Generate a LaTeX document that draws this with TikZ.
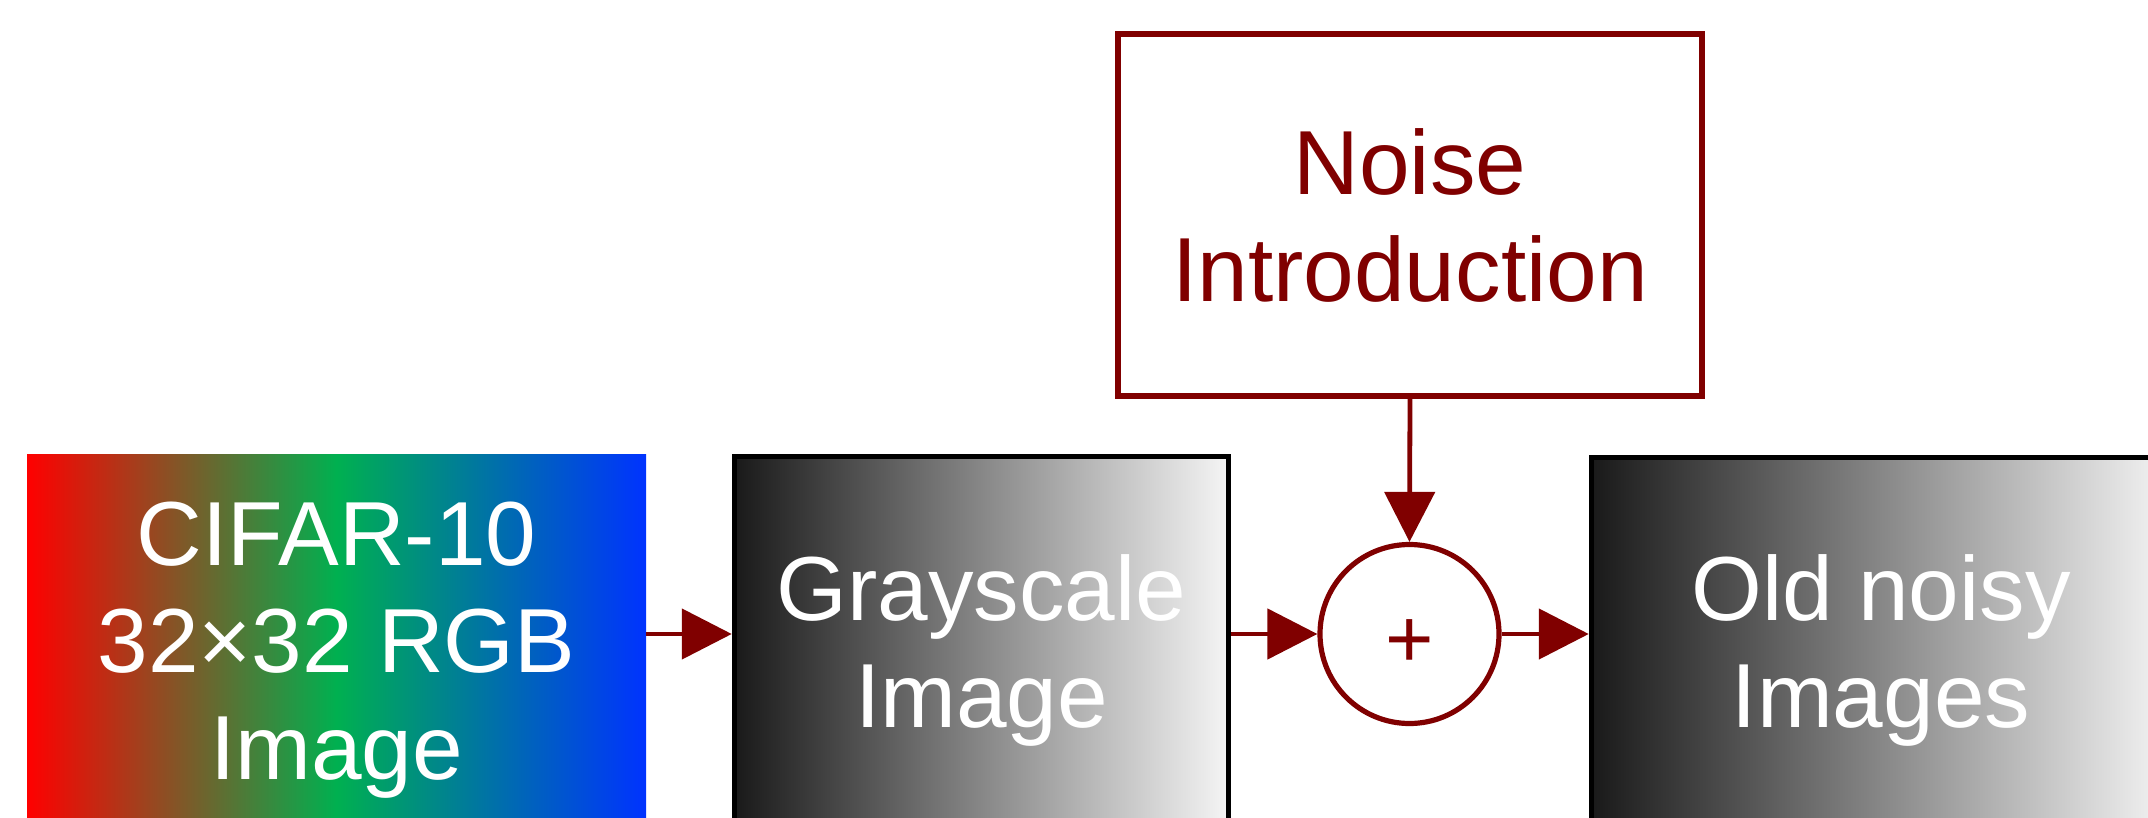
\documentclass[tikz,border=0pt]{standalone}
\usepackage{fontspec}
\setmainfont{Liberation Sans}
\usetikzlibrary{arrows.meta}
\definecolor{noisered}{RGB}{128,0,0}
\definecolor{rgbred}{RGB}{255,0,0}
\definecolor{rgbgreen}{RGB}{0,176,80}
\definecolor{rgbblue}{RGB}{0,51,255}

\begin{document}
\begin{tikzpicture}[%
  x=0.5pt, y=-0.5pt,
  every node/.style={font=\fontsize{45.5pt}{53.5pt}\selectfont, align=center, inner sep=0pt},
  graybox/.style={draw=black, line width=2.75pt, left color=black!90, right color=black!4, text=white},
  flow/.style={draw=noisered, line width=2.4pt, -{Triangle[length=25pt,width=25pt]}}]
  \useasboundingbox (0,0) rectangle (2148,818);
  \clip (0,0) rectangle (2148,818);
  \node[left color=rgbred, right color=rgbblue, middle color=rgbgreen, text=white,
    minimum width=309.5pt, minimum height=196.5pt] (cifar) at (336.5,650.5) {CIFAR-10\\32×32 RGB\\Image};
  \node[graybox, minimum width=247pt, minimum height=193.5pt] (gray) at (981.5,650) {Grayscale\\Image};
  \node[draw=noisered, line width=2.6pt, fill=white, text=noisered,
    minimum width=292pt, minimum height=181pt] (noise) at (1410,215) {Noise\\Introduction};
  \node[circle, draw=noisered, line width=2.6pt, fill=white, text=noisered, minimum size=89.5pt,
    font=\fontsize{41.5pt}{41.5pt}\selectfont, text height=33.3pt, text depth=0pt] (sum) at (1409.5,634) {+};
  \node[graybox, minimum width=289.5pt, minimum height=192.5pt] (old) at (1881,650) {Old noisy\\Images};
  \draw[flow] (cifar.east |- sum.west) -- (gray.west |- sum.west);
  \draw[flow] (gray.east |- sum.west) -- (sum.west);
  \draw[flow] (noise.south) -- (sum.north);
  \draw[flow] (sum.east) -- (old.west |- sum.east);
\end{tikzpicture}
\end{document}
